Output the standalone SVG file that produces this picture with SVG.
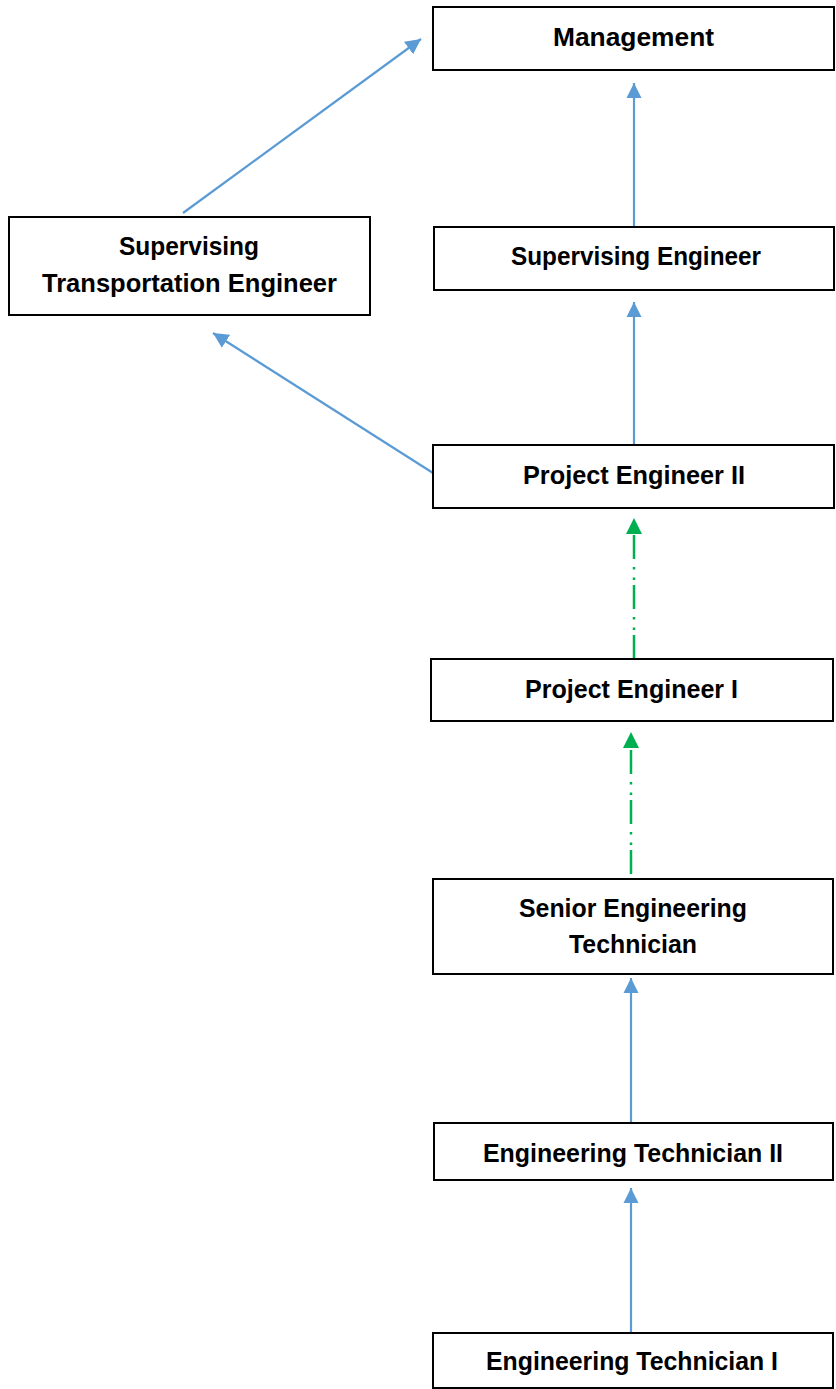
<svg xmlns="http://www.w3.org/2000/svg" width="836" height="1389" viewBox="0 0 836 1389">
<style>
.box{fill:#fff;stroke:#000;stroke-width:2}
.lbl{font-family:"Liberation Sans",Arial,sans-serif;font-weight:bold;font-size:25px;fill:#000;text-anchor:middle}
.blue{stroke:#5B9BD5;stroke-width:2.2;fill:none}
.green{stroke:#00B050;stroke-width:2.5;fill:none;stroke-dasharray:24 5 2.5 8 2.5 8}
</style>
<defs>
<marker id="ab" viewBox="0 0 10 10" refX="10" refY="5" markerWidth="7" markerHeight="7" markerUnits="strokeWidth" orient="auto"><path d="M0,0 L10,5 L0,10 z" fill="#5B9BD5"/></marker>
</defs>
<g id="connectors">
<line class="blue" x1="183" y1="213" x2="421" y2="39" marker-end="url(#ab)"/>
<line class="blue" x1="634" y1="227" x2="634" y2="83" marker-end="url(#ab)"/>
<line class="blue" x1="634" y1="445" x2="634" y2="302" marker-end="url(#ab)"/>
<line class="blue" x1="433" y1="473" x2="213" y2="333" marker-end="url(#ab)"/>
<path class="green" d="M634,659 L634,533"/>
<path d="M626,534 L634,518 L642,534 z" fill="#00B050"/>
<path class="green" d="M631,874 L631,748"/>
<path d="M623,748 L631,732 L639,748 z" fill="#00B050"/>
<line class="blue" x1="631" y1="1123" x2="631" y2="978" marker-end="url(#ab)"/>
<line class="blue" x1="631" y1="1333" x2="631" y2="1188" marker-end="url(#ab)"/>
</g>
<g id="management">
<rect class="box" x="433" y="7" width="401" height="63"/>
<text class="lbl" x="633.5" y="46" textLength="161" lengthAdjust="spacingAndGlyphs">Management</text>
</g>
<g id="supervising-transportation-engineer">
<rect class="box" x="9" y="217" width="361" height="98"/>
<text class="lbl" x="189" y="255" textLength="140" lengthAdjust="spacingAndGlyphs">Supervising</text>
<text class="lbl" x="189.5" y="292" textLength="295" lengthAdjust="spacingAndGlyphs">Transportation Engineer</text>
</g>
<g id="supervising-engineer">
<rect class="box" x="434" y="227" width="400" height="63"/>
<text class="lbl" x="636" y="265" textLength="250" lengthAdjust="spacingAndGlyphs">Supervising Engineer</text>
</g>
<g id="project-engineer-2">
<rect class="box" x="433" y="445" width="401" height="63"/>
<text class="lbl" x="634" y="484" textLength="222" lengthAdjust="spacingAndGlyphs">Project Engineer II</text>
</g>
<g id="project-engineer-1">
<rect class="box" x="431" y="659" width="402" height="62"/>
<text class="lbl" x="631.5" y="698" textLength="213" lengthAdjust="spacingAndGlyphs">Project Engineer I</text>
</g>
<g id="senior-engineering-technician">
<rect class="box" x="433" y="879" width="400" height="95"/>
<text class="lbl" x="633" y="917" textLength="228" lengthAdjust="spacingAndGlyphs">Senior Engineering</text>
<text class="lbl" x="633" y="953" textLength="128" lengthAdjust="spacingAndGlyphs">Technician</text>
</g>
<g id="engineering-technician-2">
<rect class="box" x="434" y="1123" width="399" height="57"/>
<text class="lbl" x="633" y="1162" textLength="300" lengthAdjust="spacingAndGlyphs">Engineering Technician II</text>
</g>
<g id="engineering-technician-1">
<rect class="box" x="433" y="1333" width="400" height="55"/>
<text class="lbl" x="632" y="1370" textLength="292" lengthAdjust="spacingAndGlyphs">Engineering Technician I</text>
</g>
</svg>
